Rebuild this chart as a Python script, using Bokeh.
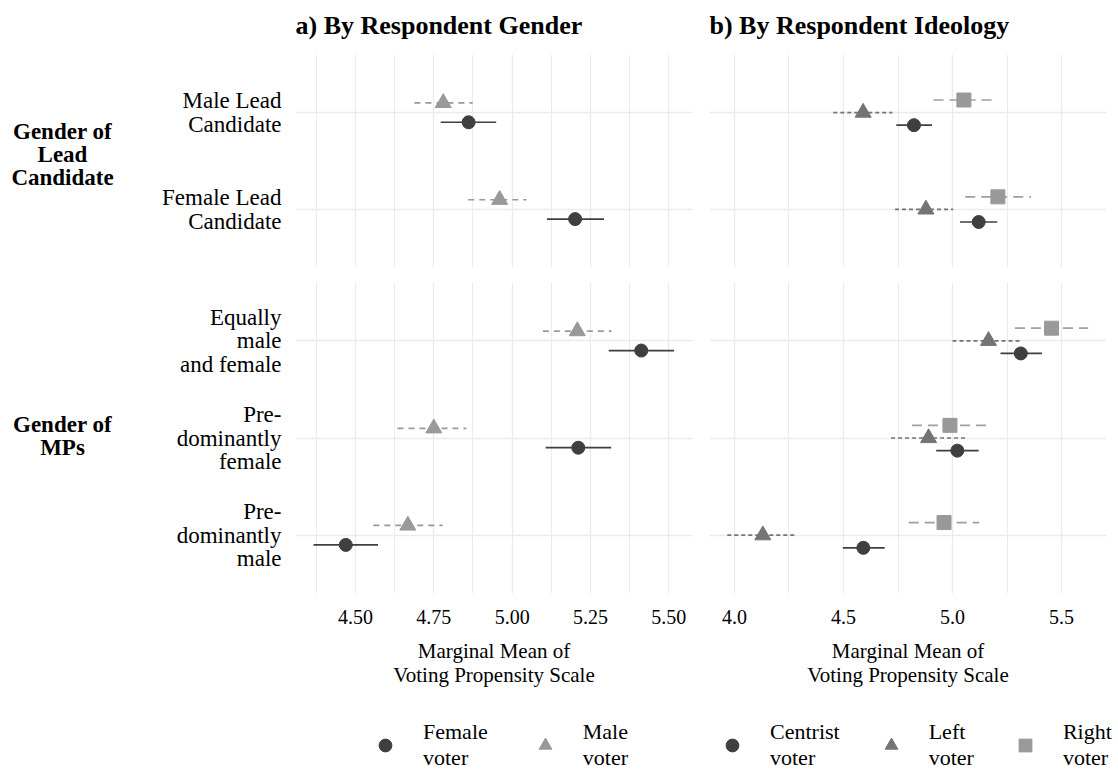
from bokeh.plotting import figure
from bokeh.models import Range1d, FixedTicker, NumeralTickFormatter, Legend, LegendItem
from bokeh.layouts import column, row
from bokeh.embed import file_html
from bokeh.resources import INLINE
from bokeh.core.properties import value

FONT = "Liberation Serif"

# ---------------- data ----------------
panel_titles = ["a) By Respondent Gender", "b) By Respondent Ideology"]
lead_labels = ["Male Lead\nCandidate", "Female Lead\nCandidate"]
mps_labels = ["Equally\nmale\nand female", "Pre-\ndominantly\nfemale", "Pre-\ndominantly\nmale"]
strip_labels = ["Gender of\nLead\nCandidate", "Gender of\nMPs"]

# a) by respondent gender
female_lead = [4.861, 5.201]
female_lead_lo = [4.772, 5.111]
female_lead_hi = [4.949, 5.293]
male_lead = [4.780, 4.960]
male_lead_lo = [4.688, 4.860]
male_lead_hi = [4.874, 5.046]

female_mps = [5.412, 5.211, 4.469]
female_mps_lo = [5.308, 5.107, 4.366]
female_mps_hi = [5.517, 5.316, 4.572]
male_mps = [5.208, 4.750, 4.667]
male_mps_lo = [5.098, 4.634, 4.557]
male_mps_hi = [5.317, 4.854, 4.778]

# b) by respondent ideology
centrist_lead = [4.823, 5.120]
centrist_lead_lo = [4.742, 5.034]
centrist_lead_hi = [4.906, 5.205]
left_lead = [4.590, 4.878]
left_lead_lo = [4.453, 4.736]
left_lead_hi = [4.724, 5.003]
right_lead = [5.052, 5.208]
right_lead_lo = [4.913, 5.058]
right_lead_hi = [5.180, 5.360]

centrist_mps = [5.313, 5.022, 4.591]
centrist_mps_lo = [5.220, 4.925, 4.497]
centrist_mps_hi = [5.410, 5.120, 4.689]
left_mps = [5.165, 4.890, 4.130]
left_mps_lo = [5.000, 4.718, 3.967]
left_mps_hi = [5.317, 5.065, 4.286]
right_mps = [5.454, 4.988, 4.961]
right_mps_lo = [5.286, 4.814, 4.799]
right_mps_hi = [5.622, 5.153, 5.122]

gender_ticks = [4.50, 4.75, 5.00, 5.25, 5.50]
gender_minor = [4.375, 4.625, 4.875, 5.125, 5.375]
ideo_ticks = [4.0, 4.5, 5.0, 5.5]
ideo_minor = [4.25, 4.75, 5.25]

gender_legend = ["Female\nvoter", "Male\nvoter"]
ideo_legend = ["Centrist\nvoter", "Left\nvoter", "Right\nvoter"]

# ---------------- styles ----------------
DARK = "#3f3f3f"
LIGHT = "#999999"
MID = "#747474"
GRID = "#ebebeb"

FRAME_W = 397
TOP_H, BOT_H = 213, 311
TITLE_H = 54
TOP_BB = 7
BOT_T, BOT_BB = 8, 110
STRIP_W = 150
LEG_H = 66
LEFT_EDGE = 295
TOTAL_W = LEFT_EDGE + FRAME_W + 8 + 9 + FRAME_W + 8


def bare(width, height, xr, yr, top=0, bottom=0):
    f = figure(frame_width=width, frame_height=height, x_range=xr, y_range=yr,
               output_backend="svg", toolbar_location=None,
               x_axis_type=None, y_axis_type=None,
               min_border_top=top, min_border_bottom=bottom,
               min_border_left=0, min_border_right=0)
    f.grid.visible = False
    f.outline_line_color = None
    f.border_fill_color = "white"
    return f


def make_panel(n, xr, ticks, minor, fmt, frame_h, top, bottom, left, right,
               labels=None, show_x=False):
    p = figure(frame_width=FRAME_W, frame_height=frame_h,
               x_range=Range1d(*xr), y_range=Range1d(n + 0.6, 0.4),
               output_backend="svg", toolbar_location=None,
               min_border_top=top, min_border_bottom=bottom,
               min_border_left=left, min_border_right=right)
    p.outline_line_color = None
    p.background_fill_color = "white"
    p.border_fill_color = "white"
    xt = FixedTicker(ticks=ticks, minor_ticks=minor)
    p.xaxis.ticker = xt
    p.xgrid.ticker = xt
    p.xgrid.grid_line_color = GRID
    p.xgrid.grid_line_width = 1.3
    p.xgrid.minor_grid_line_color = GRID
    p.xgrid.minor_grid_line_width = 1.0
    yt = FixedTicker(ticks=list(range(1, n + 1)))
    p.yaxis.ticker = yt
    p.ygrid.ticker = yt
    p.ygrid.grid_line_color = GRID
    p.ygrid.grid_line_width = 1.3
    for ax in (p.xaxis[0], p.yaxis[0]):
        ax.axis_line_color = None
        ax.major_tick_line_color = None
        ax.minor_tick_line_color = None
        ax.major_label_text_font = FONT
        ax.major_label_text_color = "black"
    if show_x:
        p.xaxis.formatter = NumeralTickFormatter(format=fmt)
        p.xaxis.major_label_text_font_size = "20px"
        p.xaxis.major_label_standoff = 10
        p.xaxis.axis_label = "Marginal Mean of\nVoting Propensity Scale"
        p.xaxis.axis_label_text_font = FONT
        p.xaxis.axis_label_text_font_size = "21px"
        p.xaxis.axis_label_text_font_style = "normal"
        p.xaxis.axis_label_text_color = "black"
        p.xaxis.axis_label_text_line_height = 1.0
        p.xaxis.axis_label_standoff = 12
    else:
        p.xaxis.visible = False
    if labels is not None:
        p.yaxis.major_label_overrides = {i + 1: lab for i, lab in enumerate(labels)}
        p.yaxis.major_label_text_font_size = "23px"
        p.yaxis.major_label_text_line_height = 0.95
        p.yaxis.major_label_standoff = 8
    else:
        p.yaxis.visible = False
    return p


def make_strip(n, frame_h, top, bottom, text, ypos):
    s = bare(STRIP_W, frame_h, Range1d(0, STRIP_W), Range1d(n + 0.6, 0.4), top, bottom)
    s.text(x=[62], y=[ypos], text=[text], text_align="center", text_baseline="middle",
           text_font=value(FONT), text_font_size="23px", text_font_style="bold",
           text_color="black", text_line_height=0.92)
    return s


def series(p, vals, lo, hi, offset, marker, color, lcolor, dash, size):
    ys = [i + 1 + offset for i in range(len(vals))]
    p.segment(x0=lo, y0=ys, x1=hi, y1=ys, line_color=lcolor, line_width=1.7, line_dash=dash)
    return p.scatter(x=vals, y=ys, marker=marker, size=size, fill_color=color,
                     line_color=color)


# ---------------- titles ----------------
ttl = bare(TOTAL_W, TITLE_H, Range1d(0, TOTAL_W), Range1d(TITLE_H, 0))
ttl.text(x=[LEFT_EDGE, LEFT_EDGE + FRAME_W + 8 + 9], y=[25, 25], text=panel_titles,
         text_align="left", text_baseline="alphabetic", text_font=value(FONT),
         text_font_size="26px", text_font_style="bold", text_color="black")

# ---------------- panels ----------------
GX = (4.3085, 5.5756)
IX = (3.8855, 5.706)

st = make_strip(2, TOP_H, 0, TOP_BB, strip_labels[0], 1.43)
sb = make_strip(3, BOT_H, BOT_T, BOT_BB, strip_labels[1], 1.98)

tl = make_panel(2, GX, gender_ticks, gender_minor, "0.00", TOP_H, 0, TOP_BB, LEFT_EDGE - STRIP_W, 8,
                labels=lead_labels)
series(tl, male_lead, male_lead_lo, male_lead_hi, -0.1, "triangle", LIGHT, LIGHT, "6 5", 16)
series(tl, female_lead, female_lead_lo, female_lead_hi, 0.1, "circle", DARK, DARK, "solid", 13)

bl = make_panel(3, GX, gender_ticks, gender_minor, "0.00", BOT_H, BOT_T, BOT_BB, LEFT_EDGE - STRIP_W, 8,
                labels=mps_labels, show_x=True)
series(bl, male_mps, male_mps_lo, male_mps_hi, -0.1, "triangle", LIGHT, LIGHT, "6 5", 16)
series(bl, female_mps, female_mps_lo, female_mps_hi, 0.1, "circle", DARK, DARK, "solid", 13)

tr = make_panel(2, IX, ideo_ticks, ideo_minor, "0.0", TOP_H, 0, TOP_BB, 9, 8)
series(tr, right_lead, right_lead_lo, right_lead_hi, -0.13, "square", LIGHT, "#a0a0a0", "10 6", 14)
series(tr, left_lead, left_lead_lo, left_lead_hi, 0.0, "triangle", MID, MID, "4 3", 16)
series(tr, centrist_lead, centrist_lead_lo, centrist_lead_hi, 0.13, "circle", DARK, DARK, "solid", 13)

br = make_panel(3, IX, ideo_ticks, ideo_minor, "0.0", BOT_H, BOT_T, BOT_BB, 9, 8, show_x=True)
series(br, right_mps, right_mps_lo, right_mps_hi, -0.13, "square", LIGHT, "#a0a0a0", "10 6", 14)
series(br, left_mps, left_mps_lo, left_mps_hi, 0.0, "triangle", MID, MID, "4 3", 16)
series(br, centrist_mps, centrist_mps_lo, centrist_mps_hi, 0.13, "circle", DARK, DARK, "solid", 13)

# ---------------- legend strip ----------------
leg = bare(TOTAL_W, LEG_H, Range1d(0, 1), Range1d(0, 1))
NAN = float("nan")


def key(marker, color, size):
    return leg.scatter(x=[NAN], y=[NAN], marker=marker, size=size, fill_color=color, line_color=color)


lf = key("circle", DARK, 13)
lm = key("triangle", LIGHT, 16)
lc = key("circle", DARK, 13)
ll = key("triangle", MID, 16)
lr = key("square", LIGHT, 14)


def add_legend(items, x, spacing):
    lg = Legend(items=[LegendItem(label=t, renderers=[r]) for t, r in items],
                orientation="horizontal", location=(x, -2), spacing=spacing,
                padding=0, margin=0, label_standoff=22, glyph_width=32, glyph_height=48,
                label_text_font=FONT, label_text_font_size="22px",
                label_text_line_height=1.1, label_text_color="black",
                border_line_color=None, background_fill_alpha=0)
    leg.add_layout(lg, "center")


add_legend(list(zip(gender_legend, [lf, lm])), 369, 41)
add_legend(list(zip(ideo_legend, [lc, ll, lr])), 716, 35)

layout = column(ttl, row(st, tl, tr), row(sb, bl, br), leg)
open("out.html", "w").write(file_html(layout, INLINE))
